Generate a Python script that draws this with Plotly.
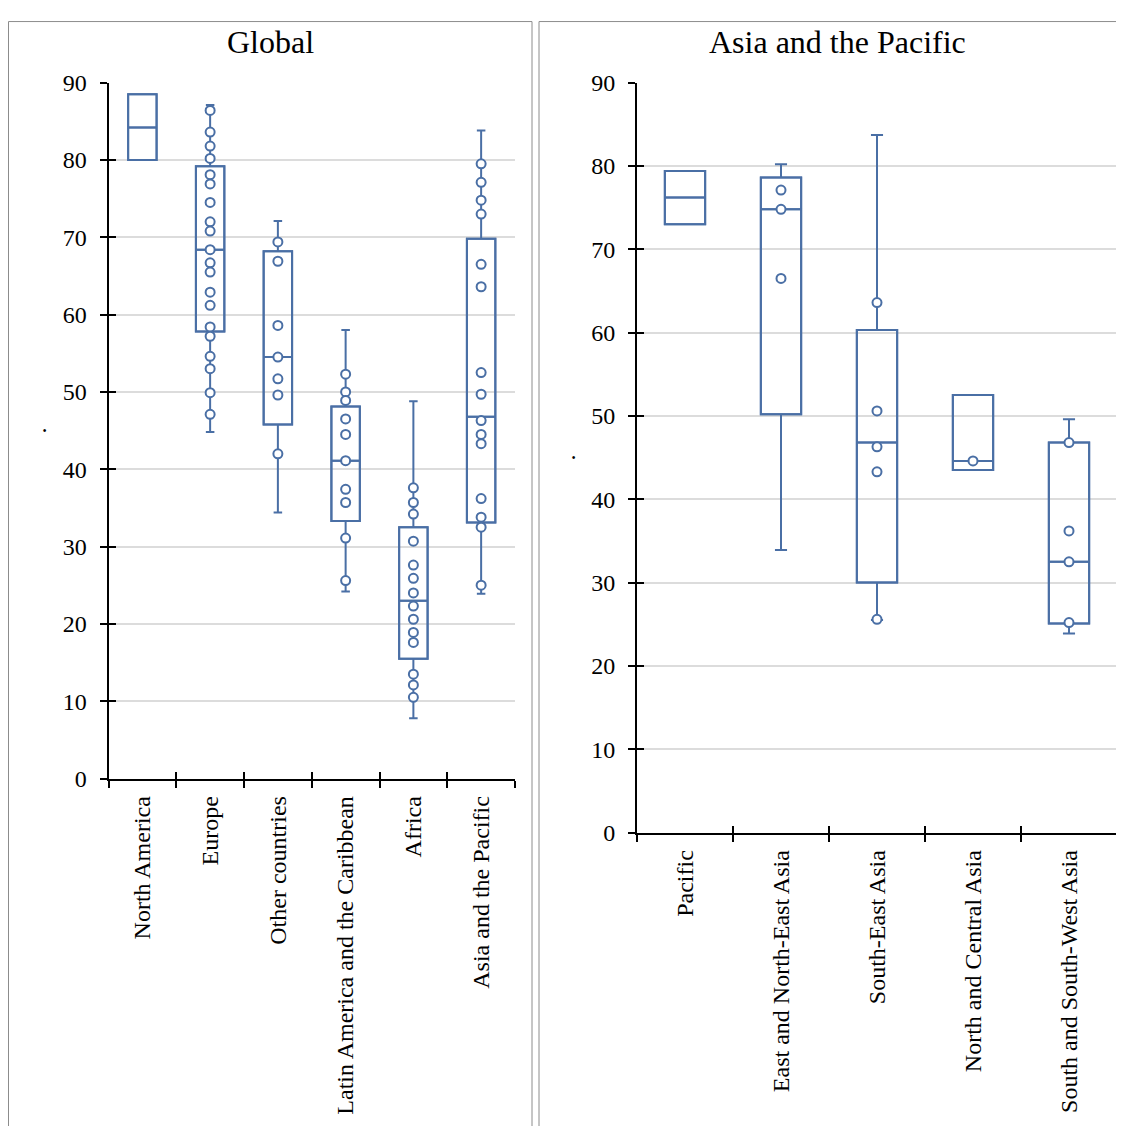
import plotly.graph_objects as go

# ---------------- data ----------------
global_cats = ["North America", "Europe", "Other countries",
               "Latin America and the Caribbean", "Africa", "Asia and the Pacific"]
global_lower = [80.0, 44.8, 34.4, 24.2, 7.8, 23.9]
global_q1 = [80.0, 57.8, 45.8, 33.3, 15.5, 33.1]
global_median = [84.2, 68.4, 54.5, 41.1, 23.0, 46.8]
global_q3 = [88.5, 79.2, 68.2, 48.1, 32.5, 69.8]
global_upper = [88.5, 87.1, 72.1, 58.0, 48.8, 83.8]

north_america_pts = []
europe_pts = [86.4, 83.6, 81.8, 80.2, 78.1, 76.9, 74.5, 72.0, 70.8, 68.4,
              66.7, 65.5, 62.9, 61.2, 58.4, 57.2, 54.6, 53.0, 49.9, 47.1]
other_pts = [69.4, 66.9, 58.6, 54.5, 51.7, 49.6, 42.0]
latam_pts = [52.3, 50.0, 48.9, 46.5, 44.5, 41.1, 37.4, 35.7, 31.1, 25.6]
africa_pts = [37.6, 35.7, 34.2, 30.7, 27.6, 25.9, 24.0, 22.3, 20.6, 18.9,
              17.6, 13.5, 12.1, 10.5]
asiapac_pts = [79.5, 77.1, 74.8, 73.0, 66.5, 63.6, 52.5, 49.7, 46.3, 44.5,
               43.3, 36.2, 33.8, 32.5, 25.0]
global_pts = [north_america_pts, europe_pts, other_pts, latam_pts, africa_pts, asiapac_pts]

asia_cats = ["Pacific", "East and North-East Asia", "South-East Asia",
             "North and Central Asia", "South and South-West Asia"]
asia_lower = [73.0, 33.9, 25.5, 43.5, 23.9]
asia_q1 = [73.0, 50.2, 30.0, 43.5, 25.1]
asia_median = [76.2, 74.8, 46.8, 44.6, 32.5]
asia_q3 = [79.4, 78.6, 60.3, 52.5, 46.8]
asia_upper = [79.4, 80.2, 83.7, 52.5, 49.6]

pacific_pts = []
enea_pts = [77.1, 74.8, 66.5]
sea_pts = [63.6, 50.6, 46.3, 43.3, 25.6]
nca_pts = [44.6]
sswa_pts = [46.8, 36.2, 32.5, 25.2]
asia_pts = [pacific_pts, enea_pts, sea_pts, nca_pts, sswa_pts]

y_ticks = [0, 10, 20, 30, 40, 50, 60, 70, 80, 90]

# ---------------- style ----------------
# page placement of the figure (measured): x offset 8, y offset 22, y scale 0.9755
OX, OY, SY = 8, 22, 0.9755
W, H = 1116, 1120
BLUE = "#4a6fa5"
FONT = "Liberation Serif, Times New Roman, serif"
BOX_W = 0.42


def px(x):
    return min(1.0, max(0.0, (x - OX) / W))


def py(y):
    return min(1.0, max(0.0, 1 - (y / SY - OY) / H))


fig = go.Figure()


def add_panel(cats, lo, q1, med, q3, hi, pts, xa, ya):
    fig.add_trace(go.Box(
        x=cats, lowerfence=lo, q1=q1, median=med, q3=q3, upperfence=hi,
        boxpoints=False, width=BOX_W, whiskerwidth=0.3,
        line=dict(color=BLUE, width=2), fillcolor="rgba(255,255,255,0)",
        xaxis=xa, yaxis=ya, showlegend=False, hoverinfo="skip"))
    xs, ys = [], []
    for c, p in zip(cats, pts):
        xs += [c] * len(p)
        ys += p
    fig.add_trace(go.Scatter(
        x=xs, y=ys, mode="markers",
        marker=dict(symbol="circle", size=9, color="white",
                    line=dict(color=BLUE, width=2)),
        xaxis=xa, yaxis=ya, showlegend=False))
    fig.add_trace(go.Box(
        x=cats, lowerfence=q1, q1=q1, median=med, q3=q3, upperfence=q3,
        boxpoints=False, width=BOX_W, whiskerwidth=0,
        line=dict(color=BLUE, width=2), fillcolor="rgba(255,255,255,0)",
        xaxis=xa, yaxis=ya, showlegend=False, hoverinfo="skip"))


add_panel(global_cats, global_lower, global_q1, global_median, global_q3,
          global_upper, global_pts, "x", "y")
add_panel(asia_cats, asia_lower, asia_q1, asia_median, asia_q3,
          asia_upper, asia_pts, "x2", "y2")

fig.add_trace(go.Scatter(x=[None], y=[None], xaxis="x3", yaxis="y3",
                         showlegend=False, hoverinfo="skip"))
fig.add_trace(go.Scatter(x=[None], y=[None], xaxis="x4", yaxis="y4",
                         showlegend=False, hoverinfo="skip"))

tickfont = dict(family=FONT, size=24, color="black")

left_dom_x = [px(108.5), px(515)]
left_dom_y = [py(778), py(83)]
right_dom_x = [px(637), px(1117)]
right_dom_y = [py(832), py(83)]


def xaxis_main(dom, cats, anchor):
    return dict(domain=dom, anchor=anchor, type="category",
                categoryorder="array", categoryarray=cats,
                range=[-0.5, len(cats) - 0.5], tickson="boundaries",
                ticks="outside", ticklen=7, tickwidth=2, tickcolor="black",
                showline=True, linecolor="black", linewidth=2,
                showgrid=False, zeroline=False, tickangle=-90,
                tickfont=tickfont, ticklabelstandoff=6, fixedrange=True)


def yaxis_main(dom, anchor):
    return dict(domain=dom, anchor=anchor, range=[0, 90],
                tickmode="array", tickvals=y_ticks,
                ticks="outside", ticklen=7, tickwidth=2, tickcolor="black",
                showline=True, linecolor="black", linewidth=2,
                showgrid=True, gridcolor="#dcdcdc", gridwidth=2,
                zeroline=False, tickfont=tickfont, ticklabelstandoff=8,
                title=dict(text=".", font=dict(family=FONT, size=24, color="black"),
                           standoff=9),
                fixedrange=True)


def xaxis_inner(over, anchor, n):
    return dict(overlaying=over, anchor=anchor, range=[-0.5, n - 0.5],
                tickmode="array", tickvals=[i - 0.5 for i in range(n + 1)],
                ticks="inside", ticklen=7, tickwidth=2, tickcolor="black",
                showticklabels=False, showgrid=False, zeroline=False,
                showline=False, fixedrange=True)


def yaxis_inner(over, anchor):
    return dict(overlaying=over, anchor=anchor, range=[0, 90],
                tickmode="array", tickvals=y_ticks,
                ticks="inside", ticklen=7, tickwidth=2, tickcolor="black",
                showticklabels=False, showgrid=False, zeroline=False,
                showline=False, fixedrange=True)


fig.update_layout(
    width=W, height=H,
    margin=dict(l=0, r=0, t=0, b=0),
    paper_bgcolor="white", plot_bgcolor="rgba(0,0,0,0)",
    boxmode="overlay",
    font=dict(family=FONT, color="black"),
    xaxis=xaxis_main(left_dom_x, global_cats, "y"),
    yaxis=yaxis_main(left_dom_y, "x"),
    xaxis2=xaxis_main(right_dom_x, asia_cats, "y2"),
    yaxis2=yaxis_main(right_dom_y, "x2"),
    xaxis3=xaxis_inner("x", "y3", len(global_cats)),
    yaxis3=yaxis_inner("y", "x3"),
    xaxis4=xaxis_inner("x2", "y4", len(asia_cats)),
    yaxis4=yaxis_inner("y2", "x4"),
    annotations=[
        dict(text="Global", x=px(270), y=py(42), xref="paper", yref="paper",
             showarrow=False, xanchor="center", yanchor="middle",
             font=dict(family=FONT, size=32, color="black")),
        dict(text="Asia and the Pacific", x=px(837), y=py(42), xref="paper",
             yref="paper", showarrow=False, xanchor="center", yanchor="middle",
             font=dict(family=FONT, size=32, color="black")),
    ],
    shapes=[
        dict(type="rect", xref="paper", yref="paper", x0=px(8.5), x1=px(532),
             y0=-0.02, y1=0.9995, line=dict(color="#8c8c8c", width=1),
             layer="below"),
        dict(type="rect", xref="paper", yref="paper", x0=px(539), x1=1.02,
             y0=-0.02, y1=0.9995, line=dict(color="#8c8c8c", width=1),
             layer="below"),
    ],
    hovermode=False,
)

fig.write_html("out.html")
